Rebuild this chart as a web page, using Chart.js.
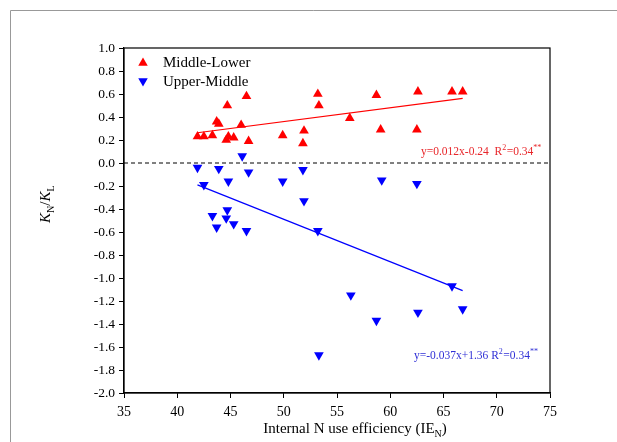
<!DOCTYPE html>
<html>
<head>
<meta charset="utf-8">
<script src="https://cdn.jsdelivr.net/npm/chart.js@4"></script>
<style>
	body { margin: 0; background: #fff; }
	#wrap { position: relative; width: 617px; height: 442px; }
</style>
</head>
<body>
<div id="wrap"><canvas id="chart" width="617" height="442"></canvas></div>
<script>
// Middle-Lower (red, up triangles)
const redX = [41.9, 42.5, 43.3, 43.7, 43.9, 44.7, 44.6, 44.8, 45.3, 46.0, 46.5, 46.7, 49.9, 51.9, 51.8, 53.2, 53.3, 56.2, 58.7, 59.1, 62.6, 62.5, 65.8, 66.8];
const redY = [0.23, 0.23, 0.24, 0.36, 0.34, 0.50, 0.20, 0.23, 0.22, 0.33, 0.58, 0.19, 0.24, 0.28, 0.17, 0.60, 0.50, 0.39, 0.59, 0.29, 0.62, 0.29, 0.62, 0.62];
// Upper-Middle (blue, down triangles)
const blueX = [46.1, 41.9, 43.9, 46.7, 51.8, 42.5, 44.8, 49.9, 51.9, 44.7, 43.3, 44.6, 45.3, 43.7, 46.5, 53.2, 59.2, 62.5, 56.3, 65.8, 66.8, 58.7, 62.6, 53.3];
const blueY = [0.06, -0.04, -0.05, -0.08, -0.06, -0.19, -0.16, -0.16, -0.33, -0.41, -0.46, -0.48, -0.53, -0.56, -0.59, -0.59, -0.15, -0.18, -1.15, -1.07, -1.27, -1.37, -1.30, -1.67];
// fitted lines, end points
const redFitX = [41.9, 66.8];
const redFitY = [0.263, 0.562];
const blueFitX = [41.9, 66.8];
const blueFitY = [-0.19, -1.11];
const zeroX = [35, 75];
const zeroY = [0, 0];

const seriesNames = ['Middle-Lower', 'Upper-Middle'];
const redEq = ['y=0.012x-0.24  R', '2', '=0.34', '**'];
const blueEq = ['y=-0.037x+1.36 R', '2', '=0.34', '**'];

const serif = '"Liberation Serif", "Times New Roman", serif';

function pts(xs, ys) {
	return xs.map((x, i) => ({x: x, y: ys[i]}));
}

function triangle(ctx, x, y, r, down, color) {
	const s = down ? -1 : 1;
	ctx.beginPath();
	ctx.moveTo(x, y - s * r);
	ctx.lineTo(x + r * 0.866, y + s * r * 0.5);
	ctx.lineTo(x - r * 0.866, y + s * r * 0.5);
	ctx.closePath();
	ctx.fillStyle = color;
	ctx.fill();
}

// draws text pieces: [normal, sup, normal, sup]
function eqText(ctx, parts, x, y, color) {
	ctx.fillStyle = color;
	ctx.textBaseline = 'alphabetic';
	ctx.textAlign = 'left';
	parts.forEach((p, i) => {
		const sup = i % 2 == 1;
		ctx.font = (sup ? '8px ' : '11.5px ') + serif;
		ctx.fillText(p, x, sup ? y - 5 : y);
		x += ctx.measureText(p).width + (sup ? 0.5 : 0);
	});
}

const overlay = {
	id: 'overlay',
	beforeDraw(chart) {
		const ctx = chart.ctx;
		ctx.save();
		ctx.strokeStyle = '#999';
		ctx.lineWidth = 1;
		ctx.beginPath();
		ctx.moveTo(10.5, 442);
		ctx.lineTo(10.5, 10.5);
		ctx.lineTo(617, 10.5);
		ctx.stroke();
		ctx.restore();
	},
	afterDraw(chart) {
		const ctx = chart.ctx;
		const a = chart.chartArea;
		ctx.save();
		// box
		ctx.strokeStyle = '#000';
		ctx.lineWidth = 1.2;
		ctx.strokeRect(a.left, a.top, a.right - a.left, a.bottom - a.top);

		// legend
		ctx.font = '15px ' + serif;
		ctx.textBaseline = 'alphabetic';
		ctx.textAlign = 'left';
		triangle(ctx, a.left + 19, a.top + 15, 5.5, false, '#ff0000');
		ctx.fillStyle = '#000';
		ctx.fillText(seriesNames[0], a.left + 39, a.top + 19);
		triangle(ctx, a.left + 19, a.top + 33, 5.5, true, '#0000ff');
		ctx.fillStyle = '#000';
		ctx.fillText(seriesNames[1], a.left + 39, a.top + 38);

		// equations
		eqText(ctx, redEq, 421, 155, '#e8262a');
		eqText(ctx, blueEq, 414, 359, '#2f2fd6');

		// x title
		ctx.fillStyle = '#000';
		ctx.font = '15px ' + serif;
		const t1 = 'Internal N use efficiency (IE';
		const w1 = ctx.measureText(t1).width;
		ctx.font = '10px ' + serif;
		const wn = ctx.measureText('N').width;
		ctx.font = '15px ' + serif;
		const w3 = ctx.measureText(')').width;
		let x = 355 - (w1 + wn + w3) / 2;
		const by = 433;
		ctx.fillText(t1, x, by);
		x += w1;
		ctx.font = '10px ' + serif;
		ctx.fillText('N', x, by + 4);
		x += wn;
		ctx.font = '15px ' + serif;
		ctx.fillText(')', x, by);

		// y title (rotated)
		ctx.translate(50, 223);
		ctx.rotate(-Math.PI / 2);
		let yx = 0;
		const yParts = [['K', 'italic 15px '], ['N', '10px ', 4], ['/', '15px '], ['K', 'italic 15px '], ['L', '10px ', 4]];
		yParts.forEach(p => {
			ctx.font = p[1] + serif;
			ctx.fillText(p[0], yx, p[2] || 0);
			yx += ctx.measureText(p[0]).width;
		});
		ctx.restore();
	}
};

const config = {
	type: 'scatter',
	data: {
		datasets: [
			{
				label: 'zero',
				data: pts(zeroX, zeroY),
				showLine: true,
				borderColor: '#000',
				borderWidth: 1,
				borderDash: [4, 3],
				pointRadius: 0
			},
			{
				label: 'fit red',
				data: pts(redFitX, redFitY),
				showLine: true,
				borderColor: '#ff0000',
				borderWidth: 1.2,
				pointRadius: 0
			},
			{
				label: 'fit blue',
				data: pts(blueFitX, blueFitY),
				showLine: true,
				borderColor: '#0000ff',
				borderWidth: 1.2,
				pointRadius: 0
			},
			{
				label: seriesNames[0],
				data: pts(redX, redY),
				pointStyle: 'triangle',
				pointRadius: 5.6,
				backgroundColor: '#ff0000',
				borderColor: '#ff0000',
				borderWidth: 0
			},
			{
				label: seriesNames[1],
				data: pts(blueX, blueY),
				pointStyle: 'triangle',
				rotation: 180,
				pointRadius: 5.6,
				backgroundColor: '#0000ff',
				borderColor: '#0000ff',
				borderWidth: 0
			}
		]
	},
	options: {
		responsive: false,
		animation: false,
		layout: { padding: { left: 0, right: 67, top: 48, bottom: 0 } },
		plugins: { legend: { display: false }, tooltip: { enabled: false } },
		scales: {
			x: {
				type: 'linear',
				min: 35,
				max: 75,
				afterFit: s => { s.height = 49; },
				border: { color: '#000', width: 1.2 },
				grid: { drawOnChartArea: false, tickLength: 5, color: '#000', tickWidth: 1 },
				ticks: { stepSize: 5, color: '#000', padding: 6, font: { family: serif, size: 14 } }
			},
			y: {
				type: 'linear',
				min: -2,
				max: 1,
				afterFit: s => { s.width = 124; },
				border: { color: '#000', width: 1.2 },
				grid: { drawOnChartArea: false, tickLength: 5, color: '#000', tickWidth: 1 },
				ticks: {
					stepSize: 0.2,
					color: '#000',
					padding: 4,
					font: { family: serif, size: 13.5 },
					callback: v => Math.abs(v) < 1e-9 ? '0.0' : v.toFixed(1)
				}
			}
		}
	},
	plugins: [overlay]
};

const chart = new Chart(document.getElementById('chart'), config);
</script>
</body>
</html>
